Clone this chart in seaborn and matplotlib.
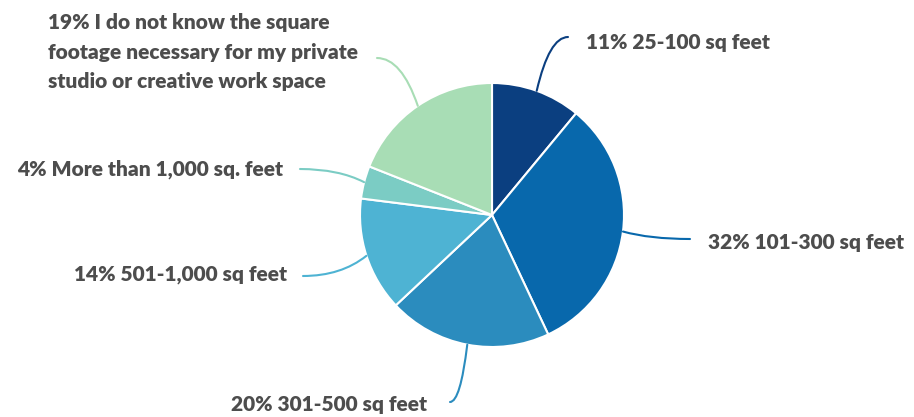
import numpy as np
import matplotlib
matplotlib.use("Agg")
import matplotlib.pyplot as plt
from matplotlib.path import Path
from matplotlib.patches import PathPatch
import seaborn as sns

# Survey answers: square footage needed for a private studio / creative space
categories = [
    "25-100 sq feet",
    "101-300 sq feet",
    "301-500 sq feet",
    "501-1,000 sq feet",
    "More than 1,000 sq. feet",
    "I do not know the square\nfootage necessary for my private\nstudio or creative work space",
]
shares = [11, 32, 20, 14, 4, 19]
colors = ["#0b3f80", "#0868ac", "#2b8cbe", "#4eb3d3", "#7bccc4", "#a8ddb5"]

# Label anchors (pixel layout, y measured from the top) and text alignment
label_pos = [(586, 42), (708, 242), (427, 405), (287, 274), (283, 169), (48, 52)]
label_ha = ["left", "left", "right", "right", "right", "left"]
connector_end = [(568, 37), (690, 239), (450, 402), (303, 276), (300, 169), (377, 58)]

sns.set_theme(style="white")
plt.rcParams["font.family"] = ["Lato", "DejaVu Sans"]

W, H = 914, 417
fig = plt.figure(figsize=(W / 100, H / 100), dpi=100)
ax = fig.add_axes([0, 0, 1, 1])

cx, cy, r = 492, H - 215, 132
wedges, _ = ax.pie(
    shares, colors=colors, startangle=90, counterclock=False,
    center=(cx, cy), radius=r, frame=True,
    wedgeprops=dict(edgecolor="white", linewidth=1.5),
)
ax.set_xlim(0, W)
ax.set_ylim(0, H)
ax.set_aspect("equal")
ax.axis("off")

text_color = "#4d4d4d"
for w, share, cat, color, (lx, ly), ha, (ex, ey) in zip(
        wedges, shares, categories, colors, label_pos, label_ha, connector_end):
    mid = np.deg2rad((w.theta1 + w.theta2) / 2)
    sx, sy = cx + r * np.cos(mid), cy + r * np.sin(mid)
    ey = H - ey
    k = 0.6 * abs(ex - sx)
    ctrl_x = ex + (k if sx > ex else -k)
    path = Path([(sx, sy), (ctrl_x, ey), (ex, ey)],
                [Path.MOVETO, Path.CURVE3, Path.CURVE3])
    ax.add_patch(PathPatch(path, fill=False, edgecolor=color, lw=1.5,
                           capstyle="round"))
    ax.text(lx, H - ly, f"{share}% {cat}", ha=ha, va="center",
            multialignment="left", fontsize=15, fontweight="heavy",
            color=text_color, linespacing=1.68)

fig.savefig("out.png", dpi=100, facecolor="white")
